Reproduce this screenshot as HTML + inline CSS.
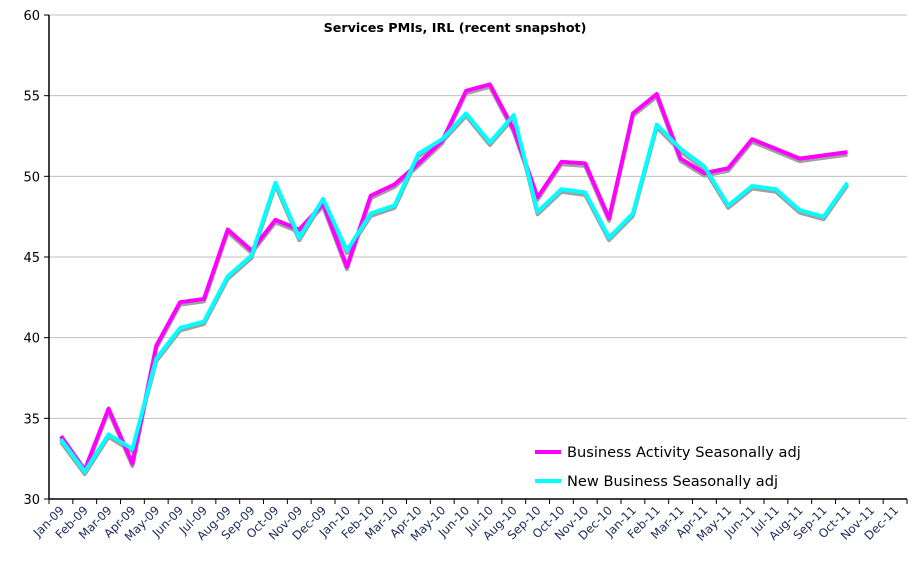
<!DOCTYPE html>
<html><head><meta charset="utf-8"><style>
body{margin:0;background:#fff;}
svg{display:block;font-family:"DejaVu Sans","Liberation Sans",sans-serif;}
</style></head><body>
<svg id="chart" width="913" height="562">
<text x="455" y="32" text-anchor="middle" font-size="12.7" font-weight="bold">Services PMIs, IRL (recent snapshot)</text>
<g id="grid"></g><g id="series"></g><g id="axes"></g>
<g>
<line x1="535" y1="452" x2="561" y2="452" stroke="#ff00ff" stroke-width="4"/>
<text x="567" y="457" font-size="14.6">Business Activity Seasonally adj</text>
<line x1="535" y1="481" x2="561" y2="481" stroke="#00ffff" stroke-width="4"/>
<text x="567" y="486" font-size="14.6">New Business Seasonally adj</text>
</g>
</svg>
<script>
const categories=["Jan-09","Feb-09","Mar-09","Apr-09","May-09","Jun-09","Jul-09","Aug-09","Sep-09","Oct-09","Nov-09","Dec-09","Jan-10","Feb-10","Mar-10","Apr-10","May-10","Jun-10","Jul-10","Aug-10","Sep-10","Oct-10","Nov-10","Dec-10","Jan-11","Feb-11","Mar-11","Apr-11","May-11","Jun-11","Jul-11","Aug-11","Sep-11","Oct-11","Nov-11","Dec-11"];
const businessActivity=[33.9,31.8,35.6,32.2,39.5,42.2,42.4,46.7,45.4,47.3,46.7,48.3,44.4,48.8,49.5,50.8,52.2,55.3,55.7,52.9,48.7,50.9,50.8,47.4,53.9,55.1,51.1,50.2,50.5,52.3,51.7,51.1,51.3,51.5];
const newBusiness=[33.7,31.7,34.0,33.1,38.7,40.6,41.0,43.8,45.1,49.6,46.2,48.6,45.4,47.7,48.2,51.4,52.3,53.9,52.1,53.8,47.8,49.2,49.0,46.2,47.7,53.2,51.7,50.6,48.2,49.4,49.2,47.9,47.5,49.6];
const yTicks=[30,35,40,45,50,55,60];
const NS="http://www.w3.org/2000/svg";
const L=49,R=907,T=15,B=499,yMin=30,yMax=60;
const bw=(R-L)/categories.length;
function xPos(i){return L+bw*(i+0.5);}
function yPos(v){return B-(v-yMin)/(yMax-yMin)*(B-T);}
function mk(tag,attrs,parent){const e=document.createElementNS(NS,tag);for(const k in attrs)e.setAttribute(k,attrs[k]);parent.appendChild(e);return e;}
const grid=document.getElementById('grid'),axes=document.getElementById('axes'),ser=document.getElementById('series');
yTicks.forEach(v=>{
  if(v>yMin){const g=mk('line',{x1:L,x2:R,y1:yPos(v),y2:yPos(v),stroke:'#c0c0c0','stroke-width':1},grid);
  
  }
  const tk=mk('line',{x1:L-5,x2:L,y1:yPos(v),y2:yPos(v),stroke:'#000'},axes);
  
  
  const t=mk('text',{x:L-9,y:yPos(v)+5,'text-anchor':'end','font-size':13},axes);t.textContent=v;
  
  
});
const ya=mk('line',{x1:L,x2:L,y1:T,y2:B,stroke:'#000','stroke-width':1.5},axes);


const xa=mk('line',{x1:L,x2:R,y1:B,y2:B,stroke:'#000','stroke-width':1.5},axes);


for(let i=0;i<=categories.length;i++){
  const tk=mk('line',{x1:L+bw*i,x2:L+bw*i,y1:B,y2:B+5,stroke:'#000'},axes);
  
  
}
categories.forEach((c,i)=>{
  const x=xPos(i)+4,y=B+12;
  const t=mk('text',{x:x,y:y,'text-anchor':'end','font-size':11.8,fill:'#1a2a5a',transform:`rotate(-45 ${x} ${y})`},axes);
  t.textContent=c;
  
  
});
function pts(arr,dy){return arr.map((v,i)=>xPos(i)+','+(yPos(v)+dy)).join(' ');}
[[businessActivity,'#ff00ff','business-activity'],[newBusiness,'#00ffff','new-business']].forEach(([arr,col,name])=>{
  const s=mk('polyline',{points:pts(arr,2.5),fill:'none',stroke:'#a0a0a0','stroke-width':4,'stroke-linejoin':'round'},ser);
  
  
});
[[businessActivity,'#ff00ff','business-activity'],[newBusiness,'#00ffff','new-business']].forEach(([arr,col,name])=>{
  const p=mk('polyline',{points:pts(arr,0),fill:'none',stroke:col,'stroke-width':4,'stroke-linejoin':'round'},ser);
  
  
});
</script>
</body></html>
